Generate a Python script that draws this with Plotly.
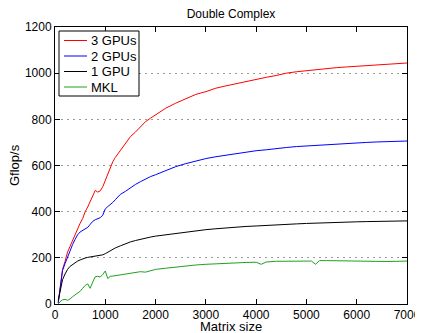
import plotly.graph_objects as go

sizes = [64, 100, 150, 200, 250, 300, 350, 400, 450, 500, 550, 600, 650, 700, 750, 800, 850, 900, 950,
         1000, 1050, 1100, 1150, 1200, 1300, 1400, 1500, 1600, 1700, 1800, 1900, 2000, 2200, 2400, 2600,
         2800, 3000, 3200, 3400, 3600, 3800, 4000, 4200, 4400, 4600, 4800, 5000, 5200, 5400, 5600, 5800,
         6000, 6200, 6400, 6600, 6800, 7000]

gpu3 = [5, 60, 150, 185, 225, 250, 275, 300, 330, 350, 370, 400, 420, 445, 470, 492, 485, 490, 508,
        535, 560, 590, 617, 635, 665, 700, 725, 745, 770, 790, 805, 820, 848, 870, 890,
        908, 920, 935, 945, 955, 965, 975, 982, 990, 1000, 1006, 1011, 1016, 1020, 1024, 1027,
        1030, 1033, 1035, 1038, 1041, 1044]

gpu2 = [5, 60, 145, 175, 205, 235, 258, 280, 300, 312, 318, 325, 332, 345, 358, 365, 370, 374, 385,
        412, 422, 430, 440, 452, 475, 488, 505, 518, 530, 542, 552, 560, 577, 595, 608,
        620, 630, 638, 645, 652, 658, 664, 668, 674, 678, 682, 685, 688, 691, 694, 696,
        698, 700, 702, 703, 705, 706]

gpu1 = [15, 60, 105, 130, 150, 163, 172, 180, 186, 191, 196, 199, 202, 204, 206, 207, 209, 210, 213,
        218, 225, 231, 237, 243, 252, 262, 269, 275, 281, 286, 290, 294, 300, 307, 313,
        318, 322, 326, 330, 333, 336, 338, 341, 343, 345, 347, 349, 351, 353, 354, 355,
        356, 357, 358, 359, 360, 360]

mkl_sizes = [64, 100, 150, 200, 250, 300, 350, 400, 450, 500, 550, 600, 650, 700, 750, 800, 850, 900, 950,
             1000, 1050, 1100, 1150, 1200, 1300, 1400, 1500, 1600, 1700, 1800, 1900, 2000, 2200, 2400, 2600,
             2800, 3000, 3200, 3400, 3600, 3800, 4000, 4100, 4200, 4400, 4600, 4800, 5000, 5100, 5180, 5260,
             5400, 5600, 5800, 6000, 6200, 6400, 6600, 6800, 7000]
mkl = [0, 10, 18, 20, 16, 22, 32, 40, 50, 55, 68, 80, 87, 68, 95, 118, 120, 117, 128,
       143, 110, 120, 121, 123, 126, 130, 133, 137, 140, 138, 145, 150, 155, 160, 166,
       169, 172, 175, 178, 178, 180, 181, 172, 182, 185, 186, 185, 186, 186, 172, 188,
       188, 187, 188, 187, 184, 182, 184, 185, 186]

series_names = ["3 GPUs", "2 GPUs", "1 GPU", "MKL"]
series_colors = ["#ff0000", "#0000ff", "#000000", "#1fa01f"]
x_ticks = [0, 1000, 2000, 3000, 4000, 5000, 6000, 7000]
y_ticks = [0, 200, 400, 600, 800, 1000, 1200]

FONT = "Liberation Sans, Arial, Helvetica, sans-serif"
# the page body adds an 8px margin, so the figure is placed at (8, 8) in the 423x333 window
OFF = 8
W, H = 423 - OFF, 333 - OFF
# plot area in window pixels: x 55..407, y 27..304
ML, MR, MT, MB = 55 - OFF, 423 - 407, 27 - OFF, 333 - 304
PW, PH = W - ML - MR, H - MT - MB

fig = go.Figure()
xs = [sizes, sizes, sizes, mkl_sizes]
ys = [gpu3, gpu2, gpu1, mkl]
for name, color, xv, yv in zip(series_names, series_colors, xs, ys):
    fig.add_trace(go.Scatter(x=xv, y=yv, mode="lines", name=name,
                             line=dict(color=color, width=1), showlegend=False))

axis_common = dict(
    showline=True, linecolor="black", linewidth=1, mirror="ticks",
    ticks="inside", ticklen=5, tickcolor="black",
    tickfont=dict(family=FONT, size=12, color="black"),
    zeroline=False, automargin=False,
)

def px_x(px):
    # window pixel -> paper fraction
    return (px - OFF - ML) / PW

def px_y(py):
    return (H - MB - (py - OFF)) / PH

shapes = []
annotations = []
# legend box (MATLAB style)
shapes.append(dict(type="rect", xref="paper", yref="paper",
                   x0=px_x(59), x1=px_x(139), y0=px_y(96), y1=px_y(31),
                   line=dict(color="black", width=1), fillcolor="white", layer="above"))
legend_rows = [40.5, 56, 71.5, 87]
for name, color, ry in zip(series_names, series_colors, legend_rows):
    shapes.append(dict(type="line", xref="paper", yref="paper",
                       x0=px_x(64), x1=px_x(87), y0=px_y(ry), y1=px_y(ry),
                       line=dict(color=color, width=1), layer="above"))
    annotations.append(dict(text=name, xref="paper", yref="paper", x=px_x(89), y=px_y(ry),
                            xanchor="left", yanchor="middle", showarrow=False,
                            font=dict(family=FONT, size=13, color="black")))

# axis titles
annotations.append(dict(text="Matrix size", xref="paper", yref="paper", x=px_x(231), y=px_y(326),
                        xanchor="center", yanchor="middle", showarrow=False,
                        font=dict(family=FONT, size=13, color="black")))
annotations.append(dict(text="Gflop/s", xref="paper", yref="paper", x=px_x(14), y=px_y(165),
                        xanchor="center", yanchor="middle", showarrow=False, textangle=-90,
                        font=dict(family=FONT, size=13, color="black")))

fig.update_layout(
    width=W, height=H,
    margin=dict(l=ML, r=MR, t=MT, b=MB, autoexpand=False),
    paper_bgcolor="white", plot_bgcolor="white",
    font=dict(family=FONT, size=12, color="black"),
    title=dict(text="Double Complex", x=(231 - OFF) / W, xanchor="center",
               y=1 - (14 - OFF) / H, yanchor="middle",
               font=dict(family=FONT, size=12, color="black")),
    showlegend=False,
    xaxis=dict(range=[0, 7000], tickvals=x_ticks, showgrid=False, **axis_common),
    yaxis=dict(range=[0, 1200], tickvals=y_ticks,
               showgrid=True, gridcolor="#9a9a9a", griddash="2px,4px", gridwidth=1,
               **axis_common),
    shapes=shapes,
    annotations=annotations,
)

fig.write_html("out.html")
